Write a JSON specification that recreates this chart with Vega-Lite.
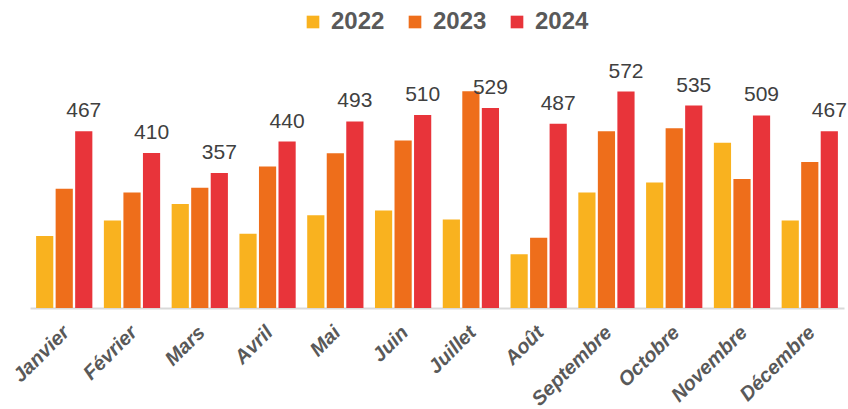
{
  "$schema": "https://vega.github.io/schema/vega-lite/v6.json",
  "width": 814,
  "height": 258,
  "autosize": {"type": "none"},
  "padding": {"left": 30, "top": 50, "right": 4, "bottom": 101},
  "background": "white",
  "config": {"view": {"stroke": null}, "font": "Liberation Sans"},
  "data": {
    "values": [
      {"mois": "Janvier", "annee": "2022", "valeur": 190},
      {"mois": "Janvier", "annee": "2023", "valeur": 315},
      {"mois": "Janvier", "annee": "2024", "valeur": 467},
      {"mois": "Février", "annee": "2022", "valeur": 231},
      {"mois": "Février", "annee": "2023", "valeur": 305},
      {"mois": "Février", "annee": "2024", "valeur": 410},
      {"mois": "Mars", "annee": "2022", "valeur": 275},
      {"mois": "Mars", "annee": "2023", "valeur": 318},
      {"mois": "Mars", "annee": "2024", "valeur": 357},
      {"mois": "Avril", "annee": "2022", "valeur": 196},
      {"mois": "Avril", "annee": "2023", "valeur": 374},
      {"mois": "Avril", "annee": "2024", "valeur": 440},
      {"mois": "Mai", "annee": "2022", "valeur": 245},
      {"mois": "Mai", "annee": "2023", "valeur": 409},
      {"mois": "Mai", "annee": "2024", "valeur": 493},
      {"mois": "Juin", "annee": "2022", "valeur": 258},
      {"mois": "Juin", "annee": "2023", "valeur": 443},
      {"mois": "Juin", "annee": "2024", "valeur": 510},
      {"mois": "Juillet", "annee": "2022", "valeur": 234},
      {"mois": "Juillet", "annee": "2023", "valeur": 573},
      {"mois": "Juillet", "annee": "2024", "valeur": 529},
      {"mois": "Août", "annee": "2022", "valeur": 142},
      {"mois": "Août", "annee": "2023", "valeur": 186},
      {"mois": "Août", "annee": "2024", "valeur": 487},
      {"mois": "Septembre", "annee": "2022", "valeur": 305},
      {"mois": "Septembre", "annee": "2023", "valeur": 467},
      {"mois": "Septembre", "annee": "2024", "valeur": 572},
      {"mois": "Octobre", "annee": "2022", "valeur": 332},
      {"mois": "Octobre", "annee": "2023", "valeur": 475},
      {"mois": "Octobre", "annee": "2024", "valeur": 535},
      {"mois": "Novembre", "annee": "2022", "valeur": 437},
      {"mois": "Novembre", "annee": "2023", "valeur": 341},
      {"mois": "Novembre", "annee": "2024", "valeur": 509},
      {"mois": "Décembre", "annee": "2022", "valeur": 231},
      {"mois": "Décembre", "annee": "2023", "valeur": 386},
      {"mois": "Décembre", "annee": "2024", "valeur": 467}
    ]
  },
  "encoding": {
    "x": {
      "field": "mois",
      "type": "nominal",
      "sort": ["Janvier", "Février", "Mars", "Avril", "Mai", "Juin", "Juillet", "Août", "Septembre", "Octobre", "Novembre", "Décembre"],
      "scale": {"paddingInner": 0.17, "paddingOuter": 0.09},
      "axis": {
        "title": null,
        "labelAngle": -45,
        "labelFont": "Liberation Sans",
        "labelFontSize": 20,
        "labelFontWeight": "bold",
        "labelFontStyle": "italic",
        "labelColor": "#595959",
        "labelPadding": 14,
        "labelOffset": -5,
        "ticks": false,
        "domainColor": "#D9D9D9",
        "domainWidth": 2
      }
    },
    "xOffset": {
      "field": "annee",
      "type": "nominal",
      "scale": {"paddingInner": 0.12, "paddingOuter": 0}
    },
    "y": {
      "field": "valeur",
      "type": "quantitative",
      "scale": {"domain": [0, 682], "nice": false},
      "axis": null
    }
  },
  "layer": [
    {
      "mark": {"type": "bar"},
      "encoding": {
        "color": {
          "field": "annee",
          "type": "nominal",
          "scale": {"domain": ["2022", "2023", "2024"], "range": ["#F9B21F", "#EE6E1B", "#E8343A"]},
          "legend": {
            "title": null,
            "orient": "none",
            "direction": "horizontal",
            "legendX": 271,
            "legendY": -40,
            "symbolType": "square",
            "symbolSize": 160,
            "symbolStrokeWidth": 0,
            "symbolOpacity": 1,
            "labelFont": "Liberation Sans",
            "labelFontSize": 24,
            "labelFontWeight": "bold",
            "labelColor": "#595959",
            "labelOffset": 6,
            "columnPadding": 18
          }
        }
      }
    },
    {
      "transform": [{"filter": "datum.annee == '2024'"}],
      "mark": {"type": "text", "baseline": "alphabetic", "dy": -14, "font": "Liberation Sans", "fontSize": 21, "color": "#404040"},
      "encoding": {
        "text": {"field": "valeur", "type": "quantitative"}
      }
    }
  ]
}
